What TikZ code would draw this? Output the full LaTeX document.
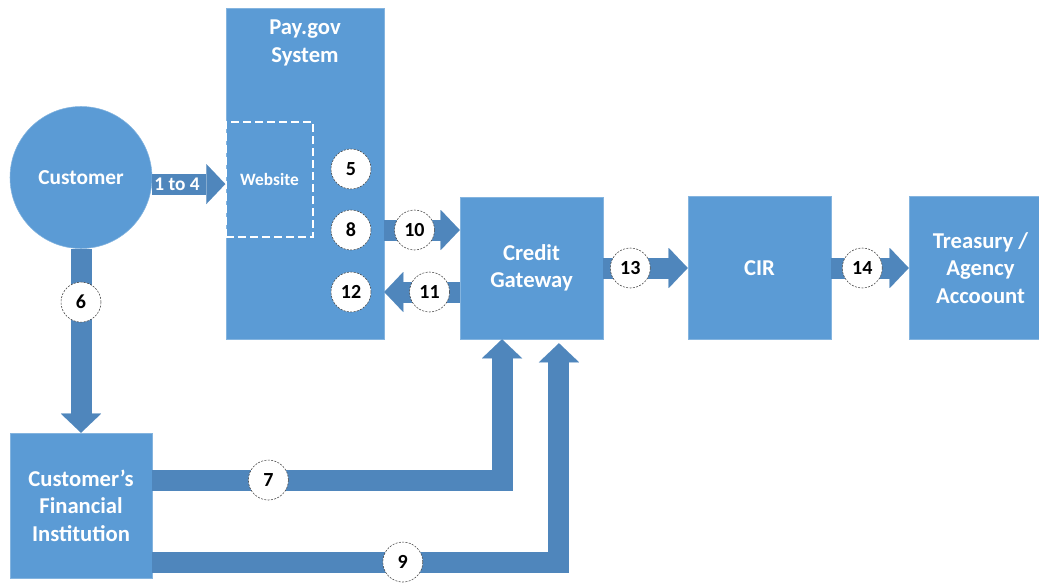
\documentclass[tikz,border=0pt]{standalone}
\usepackage{fontspec}
\setmainfont{Carlito}
\usetikzlibrary{arrows.meta,positioning}
\definecolor{boxblue}{RGB}{91,155,213}
\definecolor{arrowblue}{RGB}{79,134,188}

\tikzset{
  bluebox/.style={rectangle, fill=boxblue, draw=boxblue!75!white, inner sep=0pt, text=white, align=center, font=\fontsize{17}{20.5}\selectfont\bfseries},
  numcircle/.style={circle, fill=white, draw=black!75, thin, dash pattern=on 1.5pt off 1pt, minimum size=30pt, inner sep=0pt, font=\fontsize{15}{17}\selectfont\bfseries},
  fatarrow/.style={draw=arrowblue, line width=15.75pt, line join=miter, -{Triangle[length=14.25pt,width=30pt,line width=0.01pt]}}
}

\begin{document}
\begin{tikzpicture}[x=0.75pt,y=0.75pt,yscale=-1,xscale=1]
\clip (0,0) rectangle (1039,582);

%Shape: Circle [id:cust]
\node[bluebox, circle, minimum size=106.5pt, font=\fontsize{16}{20}\selectfont\bfseries] (cust) at (81,177.5) {Customer};
%Shape: Rectangle [id:paygov]
\node[bluebox, minimum width=118.5pt, minimum height=248.25pt] (paygov) at (305,173.5) {};
% Text Node
\node[text=white, align=center, font=\fontsize{17}{20.5}\selectfont\bfseries] (paytitle) at (305,43) {Pay.gov\\System};
%Shape: Rectangle [id:web]
\node[rectangle, draw=white, line width=1.1pt, dash pattern=on 6pt off 3pt, minimum width=65.25pt, minimum height=86.25pt, text=white, font=\fontsize{13}{15}\selectfont\bfseries] (web) at (269.5,179.5) {Website};
%Shape: Rectangle [id:gateway]
\node[bluebox, minimum width=107.25pt, minimum height=106.5pt] (gateway) at (531.5,268) {Credit\\Gateway};
%Shape: Rectangle [id:cir]
\node[bluebox, minimum width=107.25pt, minimum height=107.25pt] (cir) at (759.5,268) {CIR};
%Shape: Rectangle [id:treasury]
\node[bluebox, minimum width=107.25pt, minimum height=107.25pt] (treasury) at (980.5,268) {Treasury /\\Agency\\Accoount};
%Shape: Rectangle [id:fi]
\node[bluebox, minimum width=106.5pt, minimum height=108.75pt] (fi) at (81,505.5) {Customer’s\\Financial\\Institution};

%Shape: Circle [id:n5]
\node[numcircle] (n5) at (351,169) {5};
%Shape: Circle [id:n8]
\node[numcircle] (n8) at (351,230) {8};
%Shape: Circle [id:n12]
\node[numcircle] (n12) at (351,292) {12};

%Right Arrow [id:a14]
\draw[fatarrow] ([yshift=4.9pt]cust.east) -- ([yshift=3.4pt]web.west) node[pos=0.34, text=white, font=\fontsize{14.5}{16}\selectfont\bfseries] (a14) {1 to 4};
%Down Arrow [id:a6]
\draw[fatarrow] (cust.south) -- (fi.north) node[numcircle, pos=0.29] (n6) {6};
%Right Arrow [id:a10]
\draw[fatarrow] (paygov.east |- n8) -- (gateway.west |- n8) node[numcircle, pos=0.4] (n10) {10};
%Left Arrow [id:a11]
\draw[fatarrow] (gateway.west |- n12) -- (paygov.east |- n12) node[numcircle, pos=0.4] (n11) {11};
%Right Arrow [id:a13]
\draw[fatarrow] (gateway.east) -- (cir.west) node[numcircle, pos=0.32] (n13) {13};
%Right Arrow [id:a14b]
\draw[fatarrow] (cir.east) -- (treasury.west) node[numcircle, pos=0.4] (n14) {14};
%Bent Arrow [id:a7]
\draw[fatarrow] ([yshift=-19.1pt]fi.east) -| ([xshift=-22.1pt]gateway.south) node[numcircle, pos=0.166] (n7) {7};
%Bent Arrow [id:a9]
\draw[fatarrow] ([yshift=42.4pt]fi.east) -| ([xshift=20.6pt,yshift=3pt]gateway.south) node[numcircle, pos=0.308] (n9) {9};

\end{tikzpicture}
\end{document}
